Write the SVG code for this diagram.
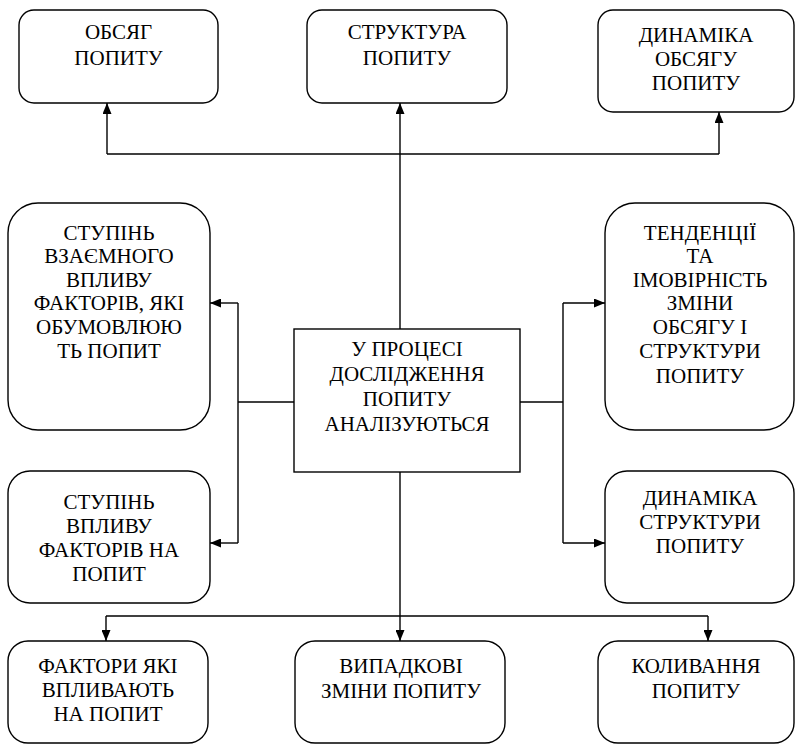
<svg xmlns="http://www.w3.org/2000/svg" width="796" height="745" viewBox="0 0 796 745">
<style>
.box{fill:#fff;stroke:#000;stroke-width:1.4}
.t{font-family:"Liberation Serif","Times New Roman",serif;font-size:21px;fill:#000;text-anchor:middle}
.c{fill:none;stroke:#000;stroke-width:1.4}
</style>
<defs>
<marker id="ah" markerUnits="userSpaceOnUse" markerWidth="11" markerHeight="9" refX="11" refY="4.5" orient="auto">
<path d="M0,0 L11,4.5 L0,9 z" fill="#000"/>
</marker>
</defs>
<rect width="796" height="745" fill="#fff"/>
<g id="connectors">
<path class="c" d="M400,329 V103" marker-end="url(#ah)"/>
<path class="c" d="M107,154 H719"/>
<path class="c" d="M107,154 V103" marker-end="url(#ah)"/>
<path class="c" d="M719,154 V112" marker-end="url(#ah)"/>
<path class="c" d="M294,402 H238"/>
<path class="c" d="M238,303 V543"/>
<path class="c" d="M238,303 H210" marker-end="url(#ah)"/>
<path class="c" d="M238,543 H210" marker-end="url(#ah)"/>
<path class="c" d="M520,402 H563"/>
<path class="c" d="M563,303 V543"/>
<path class="c" d="M563,303 H605" marker-end="url(#ah)"/>
<path class="c" d="M563,543 H605" marker-end="url(#ah)"/>
<path class="c" d="M400,472 V641" marker-end="url(#ah)"/>
<path class="c" d="M106,616 H708"/>
<path class="c" d="M106,616 V641" marker-end="url(#ah)"/>
<path class="c" d="M708,616 V641" marker-end="url(#ah)"/>
</g>
<g id="obsyag">
<rect class="box" x="19" y="10" width="199" height="93" rx="15"/>
<text class="t" x="118.5" y="39">ОБСЯГ</text>
<text class="t" x="118.5" y="65">ПОПИТУ</text>
</g>
<g id="struktura">
<rect class="box" x="307" y="10" width="200" height="93" rx="15"/>
<text class="t" x="407" y="39">СТРУКТУРА</text>
<text class="t" x="407" y="65">ПОПИТУ</text>
</g>
<g id="dynamika-obsyagu">
<rect class="box" x="598" y="10" width="196" height="102" rx="15"/>
<text class="t" x="696" y="42">ДИНАМІКА</text>
<text class="t" x="696" y="66">ОБСЯГУ</text>
<text class="t" x="696" y="90">ПОПИТУ</text>
</g>
<g id="stupin-vzayemnoho">
<rect class="box" x="8" y="203" width="202" height="227" rx="30"/>
<text class="t" x="109" y="240">СТУПІНЬ</text>
<text class="t" x="109" y="263">ВЗАЄМНОГО</text>
<text class="t" x="109" y="287">ВПЛИВУ</text>
<text class="t" x="109" y="310">ФАКТОРІВ, ЯКІ</text>
<text class="t" x="109" y="334">ОБУМОВЛЮЮ</text>
<text class="t" x="109" y="358">ТЬ ПОПИТ</text>
</g>
<g id="tendentsii">
<rect class="box" x="605" y="203" width="189" height="227" rx="30"/>
<text class="t" x="700" y="240">ТЕНДЕНЦІЇ</text>
<text class="t" x="700" y="263">ТА</text>
<text class="t" x="700" y="287">ІМОВІРНІСТЬ</text>
<text class="t" x="700" y="310">ЗМІНИ</text>
<text class="t" x="700" y="334">ОБСЯГУ І</text>
<text class="t" x="700" y="358">СТРУКТУРИ</text>
<text class="t" x="700" y="383">ПОПИТУ</text>
</g>
<g id="center">
<rect class="box" x="294" y="329" width="226" height="143"/>
<text class="t" x="407" y="356">У ПРОЦЕСІ</text>
<text class="t" x="407" y="381">ДОСЛІДЖЕННЯ</text>
<text class="t" x="407" y="406">ПОПИТУ</text>
<text class="t" x="407" y="431">АНАЛІЗУЮТЬСЯ</text>
</g>
<g id="stupin-vplyvu">
<rect class="box" x="8" y="471" width="202" height="132" rx="22"/>
<text class="t" x="109" y="509">СТУПІНЬ</text>
<text class="t" x="109" y="533">ВПЛИВУ</text>
<text class="t" x="109" y="557">ФАКТОРІВ НА</text>
<text class="t" x="109" y="581">ПОПИТ</text>
</g>
<g id="dynamika-struktury">
<rect class="box" x="605" y="471" width="189" height="132" rx="22"/>
<text class="t" x="700" y="505">ДИНАМІКА</text>
<text class="t" x="700" y="529">СТРУКТУРИ</text>
<text class="t" x="700" y="553">ПОПИТУ</text>
</g>
<g id="faktory">
<rect class="box" x="8" y="641" width="200" height="102" rx="20"/>
<text class="t" x="108" y="673">ФАКТОРИ ЯКІ</text>
<text class="t" x="108" y="697">ВПЛИВАЮТЬ</text>
<text class="t" x="108" y="721">НА ПОПИТ</text>
</g>
<g id="vypadkovi">
<rect class="box" x="295" y="641" width="210" height="102" rx="20"/>
<text class="t" x="401" y="673">ВИПАДКОВІ</text>
<text class="t" x="401" y="698">ЗМІНИ ПОПИТУ</text>
</g>
<g id="kolyvannya">
<rect class="box" x="598" y="641" width="196" height="102" rx="20"/>
<text class="t" x="696" y="673">КОЛИВАННЯ</text>
<text class="t" x="696" y="698">ПОПИТУ</text>
</g>
</svg>
